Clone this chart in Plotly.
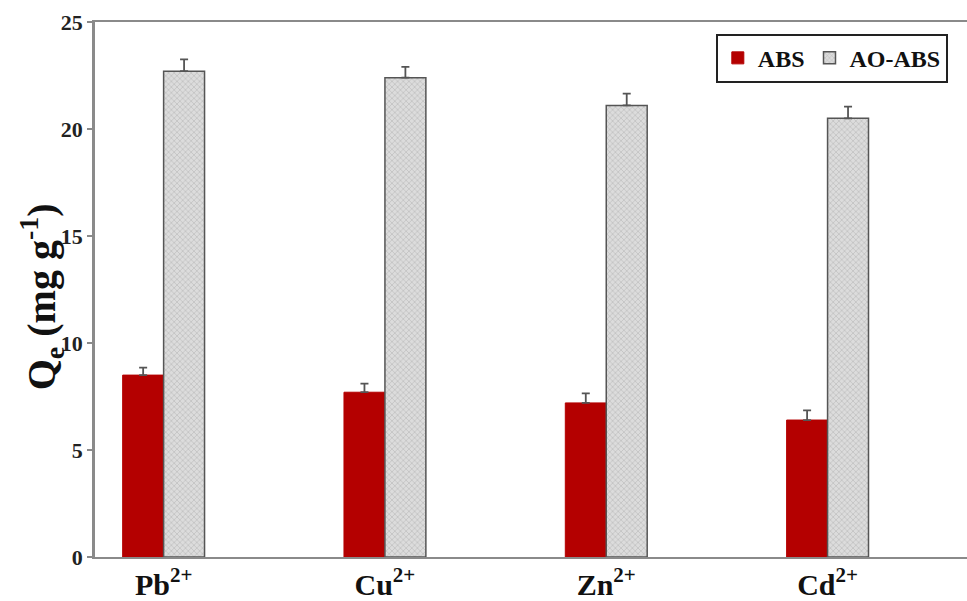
import plotly.graph_objects as go

# Adsorption capacity of ABS and AO-ABS for four metal ions
ions = ["Pb<sup>2+</sup>", "Cu<sup>2+</sup>", "Zn<sup>2+</sup>", "Cd<sup>2+</sup>"]
abs_qe = [8.5, 7.7, 7.2, 6.4]
abs_err = [0.35, 0.4, 0.45, 0.45]
ao_abs_qe = [22.7, 22.4, 21.1, 20.5]
ao_abs_err = [0.55, 0.5, 0.55, 0.55]

y_ticks = [0, 5, 10, 15, 20, 25]
y_title = "Q<sub>e</sub> (mg g<sup>-1</sup>)"

SERIF = "Liberation Serif, Times New Roman, serif"

fig = go.Figure()

fig.add_trace(go.Bar(
    name="ABS",
    x=ions,
    y=abs_qe,
    marker=dict(color="#b40000", line=dict(color="#b40000", width=1)),
    error_y=dict(type="data", array=abs_err, symmetric=False, arrayminus=[0] * 4,
                 color="#555555", thickness=1.8, width=4),
))

fig.add_trace(go.Bar(
    name="AO-ABS",
    x=ions,
    y=ao_abs_qe,
    marker=dict(
        color="#d4d4d4",
        pattern=dict(shape="x", size=4, solidity=0.25, fgcolor="#8a8a8a", bgcolor="#dcdcdc"),
        line=dict(color="#555555", width=1.5),
    ),
    error_y=dict(type="data", array=ao_abs_err, symmetric=False, arrayminus=[0] * 4,
                 color="#555555", thickness=1.8, width=4),
))

# y-axis title placed as a rotated annotation for exact positioning
fig.add_annotation(
    text=y_title, textangle=-90,
    xref="paper", yref="paper", x=-0.061, y=0.487,
    xanchor="center", yanchor="middle", showarrow=False,
    font=dict(family=SERIF, size=40, color="#111111", weight="bold"),
)

fig.update_layout(
    width=967,
    height=601,
    barmode="group",
    bargap=0.63,
    bargroupgap=0,
    plot_bgcolor="white",
    paper_bgcolor="white",
    margin=dict(l=95, r=0, t=22, b=44),
    font=dict(family=SERIF, color="#111111"),
    legend=dict(
        orientation="h",
        x=0.978, y=0.978, xanchor="right", yanchor="top",
        bordercolor="#222222", borderwidth=2,
        font=dict(family=SERIF, size=24, color="#111111", weight="bold"),
        itemwidth=30,
        bgcolor="white",
    ),
    xaxis=dict(
        range=[-0.31, 3.63],
        automargin=False,
        showline=True, linecolor="#8a8a8a", linewidth=2, mirror=True,
        ticks="", showgrid=False,
        ticklabelstandoff=0,
        tickfont=dict(family=SERIF, size=30, color="#111111", weight="bold"),
    ),
    yaxis=dict(
        range=[0, 25],
        automargin=False,
        tickvals=y_ticks,
        showline=True, linecolor="#8a8a8a", linewidth=2.5,
        ticks="outside", ticklen=5, tickcolor="#8a8a8a", tickwidth=1.5,
        showgrid=False, zeroline=False,
        tickfont=dict(family=SERIF, size=22, color="#222222", weight="bold"),
    ),
)

fig.write_html("out.html")
